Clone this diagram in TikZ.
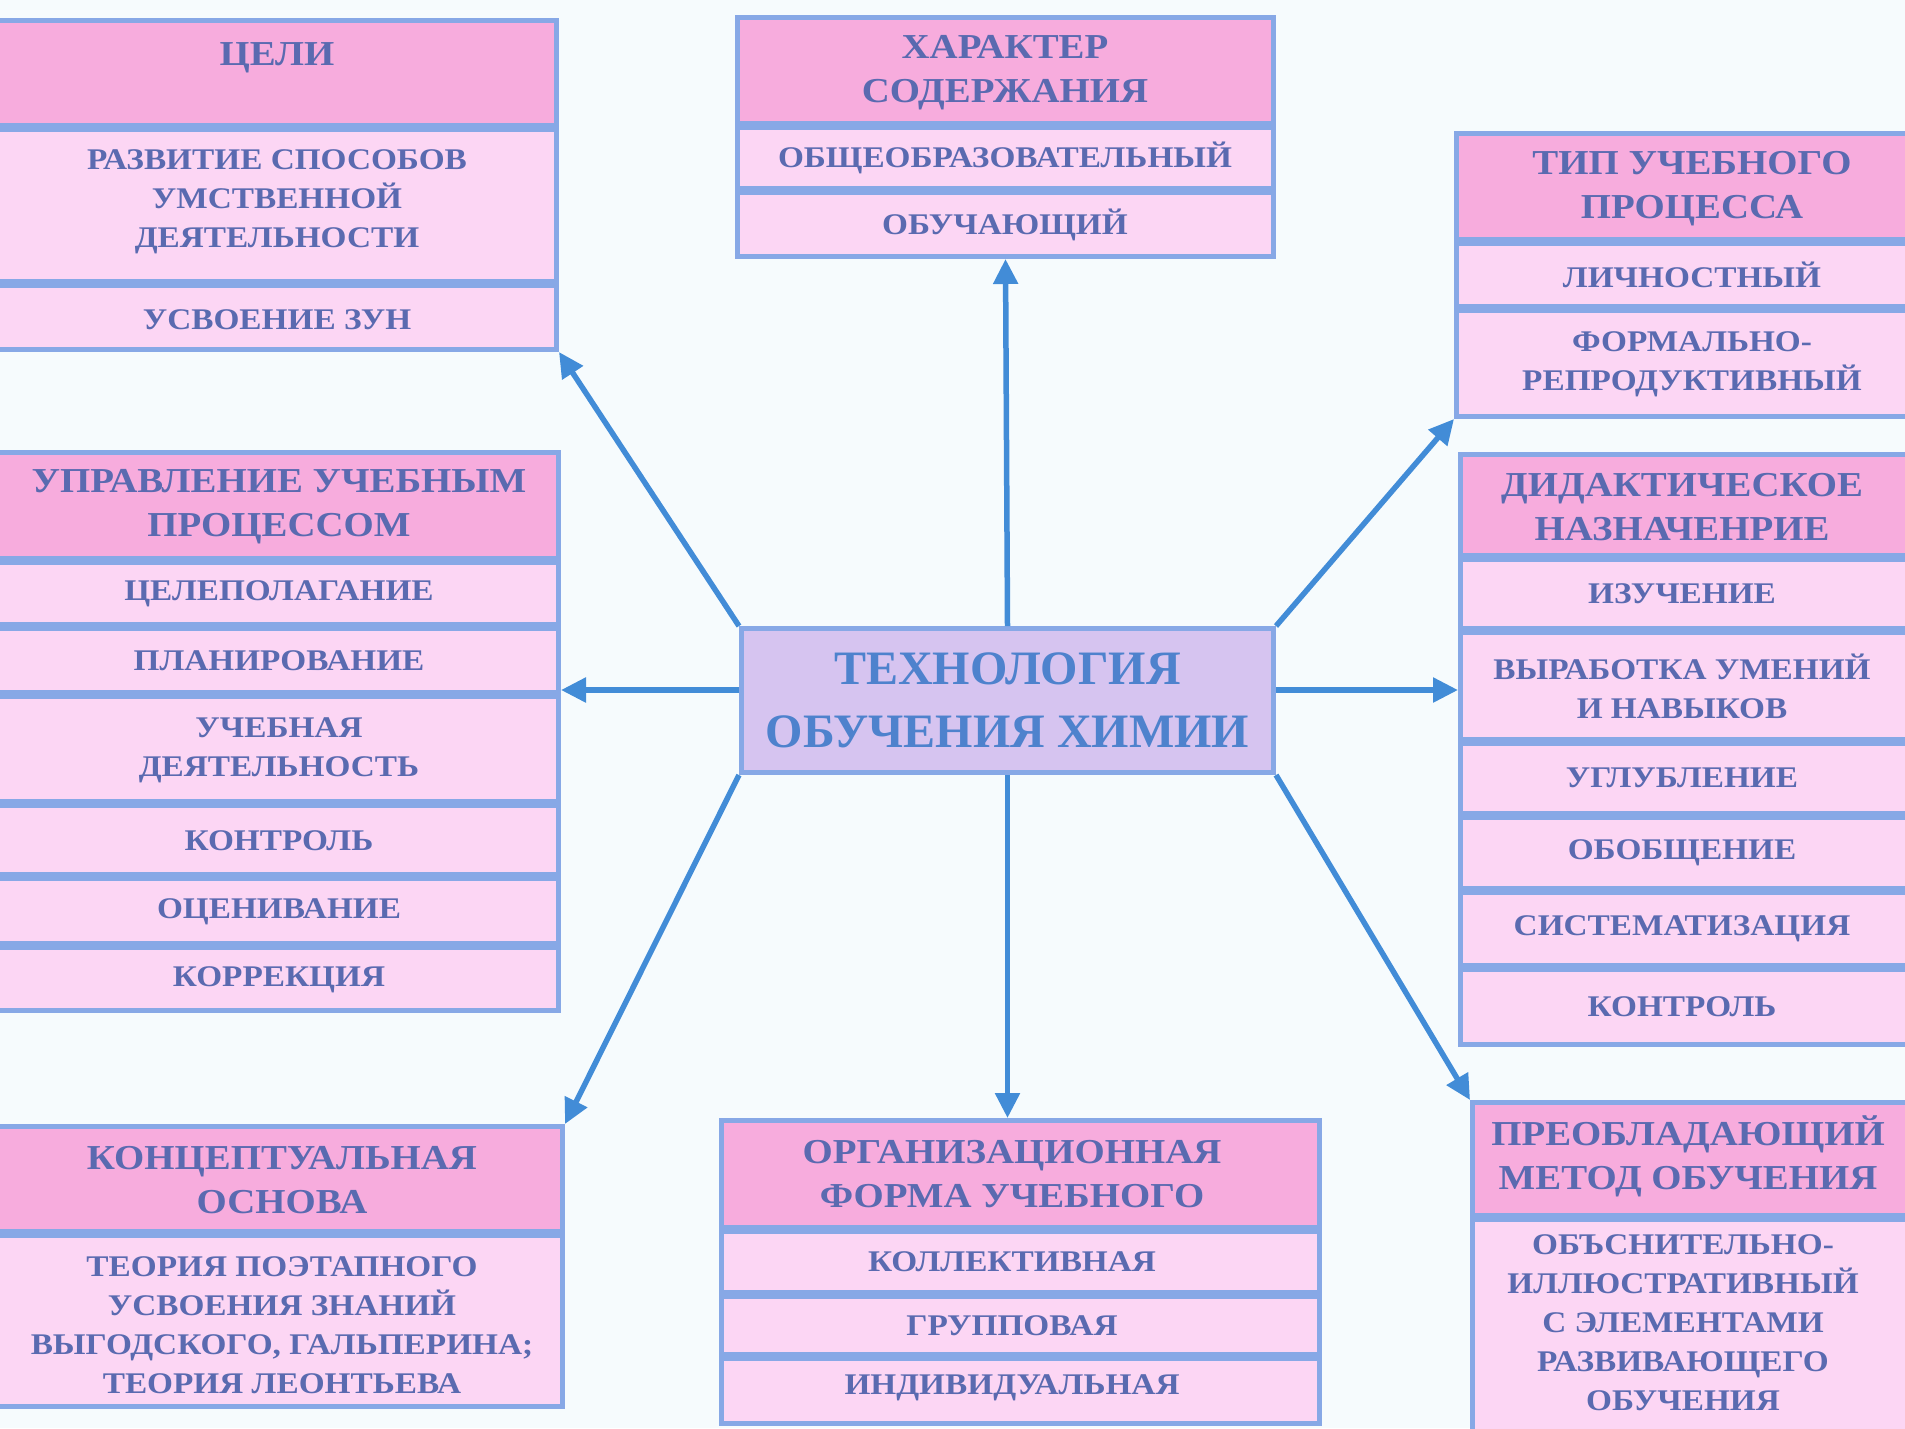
\documentclass[tikz,border=0pt]{standalone}
\usepackage{fontspec}
\setmainfont{Liberation Serif}
\newfontfamily\widefont{Liberation Serif}[FakeStretch=1.11]
\usetikzlibrary{arrows.meta}
\definecolor{bgc}{RGB}{246,251,253}
\definecolor{bordc}{RGB}{135,168,230}
\definecolor{hdrc}{RGB}{247,172,221}
\definecolor{rowc}{RGB}{252,214,244}
\definecolor{txtc}{RGB}{90,106,176}
\definecolor{ctrfill}{RGB}{214,196,240}
\definecolor{ctrtxt}{RGB}{78,130,205}
\definecolor{arrc}{RGB}{66,140,215}
\newcommand\hdrfont{\widefont\bfseries\fontsize{35}{44}\selectfont}
\newcommand\rowfont{\widefont\bfseries\fontsize{30}{39}\selectfont}
\newcommand\ctrfont{\bfseries\fontsize{48}{63}\selectfont}
\tikzset{
  frame/.style={fill=bordc, inner sep=0pt, outer sep=0pt, anchor=north west},
  htext/.style={font=\hdrfont, text=txtc, align=center, inner sep=0pt},
  rtext/.style={font=\rowfont, text=txtc, align=center, inner sep=0pt},
  arr/.style={draw=arrc, line width=5.5pt, -{Triangle[length=25pt,width=24pt]}},
}
\begin{document}
\begin{tikzpicture}[x=1pt,y=-1pt]
\fill[bgc] (0,0) rectangle (1905,1428);
\useasboundingbox (0,0) rectangle (1905,1428);

% ЦЕЛИ
\node[frame, minimum width=564pt, minimum height=334pt] (goals) at (-5,18) {};
\fill[hdrc] (0,23) rectangle (554,123);
\fill[rowc] (0,132) rectangle (554,279);
\fill[rowc] (0,288) rectangle (554,347);
\node[htext] (goals-h) at (277,58) {ЦЕЛИ};
\node[rtext] (goals-1) at (277,202) {РАЗВИТИЕ СПОСОБОВ\\УМСТВЕННОЙ\\ДЕЯТЕЛЬНОСТИ};
\node[rtext] (goals-2) at (277,320) {УСВОЕНИЕ ЗУН};

% ХАРАКТЕР СОДЕРЖАНИЯ
\node[frame, minimum width=541pt, minimum height=244pt] (char) at (735,15) {};
\fill[hdrc] (740,20) rectangle (1271,121);
\fill[rowc] (740,130) rectangle (1271,186);
\fill[rowc] (740,195) rectangle (1271,254);
\node[htext] (char-h) at (1005,73) {ХАРАКТЕР\\СОДЕРЖАНИЯ};
\node[rtext] (char-1) at (1005,158) {ОБЩЕОБРАЗОВАТЕЛЬНЫЙ};
\node[rtext] (char-2) at (1005,225) {ОБУЧАЮЩИЙ};

% ТИП УЧЕБНОГО ПРОЦЕССА
\node[frame, minimum width=460pt, minimum height=288pt] (type) at (1454,131) {};
\fill[hdrc] (1459,136) rectangle (1930,237);
\fill[rowc] (1459,246) rectangle (1930,304);
\fill[rowc] (1459,313) rectangle (1930,414);
\node[htext] (type-h) at (1692,189) {ТИП УЧЕБНОГО\\ПРОЦЕССА};
\node[rtext] (type-1) at (1692,275) {ЛИЧНОСТНЫЙ};
\node[rtext] (type-2) at (1692,364) {ФОРМАЛЬНО-\\РЕПРОДУКТИВНЫЙ};

% ДИДАКТИЧЕСКОЕ НАЗНАЧЕНИЕ
\node[frame, minimum width=460pt, minimum height=595pt] (did) at (1458,452) {};
\fill[hdrc] (1463,457) rectangle (1930,553);
\fill[rowc] (1463,562) rectangle (1930,626);
\fill[rowc] (1463,635) rectangle (1930,737);
\fill[rowc] (1463,746) rectangle (1930,811);
\fill[rowc] (1463,820) rectangle (1930,886);
\fill[rowc] (1463,895) rectangle (1930,963);
\fill[rowc] (1463,972) rectangle (1930,1042);
\node[htext] (did-h) at (1682,507) {ДИДАКТИЧЕСКОЕ\\НАЗНАЧЕНРИЕ};
\node[rtext] (did-1) at (1682,594) {ИЗУЧЕНИЕ};
\node[rtext] (did-2) at (1682,686) {ВЫРАБОТКА УМЕНИЙ\\И НАВЫКОВ};
\node[rtext] (did-3) at (1682,778) {УГЛУБЛЕНИЕ};
\node[rtext] (did-4) at (1682,853) {ОБОБЩЕНИЕ};
\node[rtext] (did-5) at (1682,929) {СИСТЕМАТИЗАЦИЯ};
\node[rtext] (did-6) at (1682,1007) {КОНТРОЛЬ};

% УПРАВЛЕНИЕ УЧЕБНЫМ ПРОЦЕССОМ
\node[frame, minimum width=566pt, minimum height=563pt] (ctrl) at (-5,450) {};
\fill[hdrc] (0,455) rectangle (556,556);
\fill[rowc] (0,565) rectangle (556,622);
\fill[rowc] (0,631) rectangle (556,690);
\fill[rowc] (0,699) rectangle (556,799);
\fill[rowc] (0,808) rectangle (556,872);
\fill[rowc] (0,881) rectangle (556,941);
\fill[rowc] (0,950) rectangle (556,1008);
\node[htext] (ctrl-h) at (279,507) {УПРАВЛЕНИЕ УЧЕБНЫМ\\ПРОЦЕССОМ};
\node[rtext] (ctrl-1) at (279,594) {ЦЕЛЕПОЛАГАНИЕ};
\node[rtext] (ctrl-2) at (279,661) {ПЛАНИРОВАНИЕ};
\node[rtext] (ctrl-3) at (279,750) {УЧЕБНАЯ\\ДЕЯТЕЛЬНОСТЬ};
\node[rtext] (ctrl-4) at (279,841) {КОНТРОЛЬ};
\node[rtext] (ctrl-5) at (279,912) {ОЦЕНИВАНИЕ};
\node[rtext] (ctrl-6) at (279,980) {КОРРЕКЦИЯ};

% КОНЦЕПТУАЛЬНАЯ ОСНОВА
\node[frame, minimum width=570pt, minimum height=285pt] (conc) at (-5,1124) {};
\fill[hdrc] (0,1129) rectangle (560,1229);
\fill[rowc] (0,1238) rectangle (560,1404);
\node[htext] (conc-h) at (282,1180) {КОНЦЕПТУАЛЬНАЯ\\ОСНОВА};
\node[rtext] (conc-1) at (282,1325) {ТЕОРИЯ ПОЭТАПНОГО\\УСВОЕНИЯ ЗНАНИЙ\\ВЫГОДСКОГО, ГАЛЬПЕРИНА;\\ТЕОРИЯ ЛЕОНТЬЕВА};

% ОРГАНИЗАЦИОННАЯ ФОРМА УЧЕБНОГО
\node[frame, minimum width=603pt, minimum height=308pt] (org) at (719,1118) {};
\fill[hdrc] (724,1123) rectangle (1317,1225);
\fill[rowc] (724,1234) rectangle (1317,1290);
\fill[rowc] (724,1299) rectangle (1317,1352);
\fill[rowc] (724,1361) rectangle (1317,1421);
\node[htext] (org-h) at (1012,1174) {ОРГАНИЗАЦИОННАЯ\\ФОРМА УЧЕБНОГО};
\node[rtext] (org-1) at (1012,1262) {КОЛЛЕКТИВНАЯ};
\node[rtext] (org-2) at (1012,1326) {ГРУППОВАЯ};
\node[rtext] (org-3) at (1012,1388) {ИНДИВИДУАЛЬНАЯ};

% ПРЕОБЛАДАЮЩИЙ МЕТОД ОБУЧЕНИЯ
\node[frame, minimum width=450pt, minimum height=340pt] (meth) at (1470,1100) {};
\fill[hdrc] (1475,1105) rectangle (1930,1213);
\fill[rowc] (1475,1222) rectangle (1930,1450);
\node[htext] (meth-h) at (1688,1156) {ПРЕОБЛАДАЮЩИЙ\\МЕТОД ОБУЧЕНИЯ};
\node[rtext] (meth-1) at (1683,1323) {ОБЪСНИТЕЛЬНО-\\ИЛЛЮСТРАТИВНЫЙ\\С ЭЛЕМЕНТАМИ\\РАЗВИВАЮЩЕГО\\ОБУЧЕНИЯ};

% Центр
\node[draw=bordc, line width=5pt, fill=ctrfill, minimum width=532pt, minimum height=144pt,
      inner sep=0pt, outer sep=2.5pt, font=\ctrfont, text=ctrtxt, align=center] (tech) at (1007.5,700.5)
      {ТЕХНОЛОГИЯ\\ОБУЧЕНИЯ ХИМИИ};

% Стрелки
\draw[arr] (tech.north) -- (char.south);
\draw[arr] (tech.north west) -- (goals.south east);
\draw[arr] (tech.west |- 0,690) -- (ctrl.east |- 0,690);
\draw[arr] (tech.south west) -- (conc.north east);
\draw[arr] (tech.south) -- (tech.south |- org.north);
\draw[arr] (tech.south east) -- (meth.north west);
\draw[arr] (tech.east |- 0,690) -- (did.west |- 0,690);
\draw[arr] (tech.north east) -- (type.south west);
\end{tikzpicture}
\end{document}
